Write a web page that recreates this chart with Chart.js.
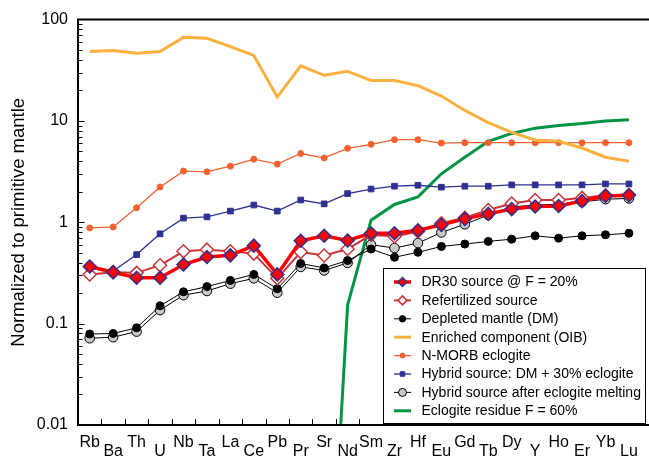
<!DOCTYPE html>
<html><head><meta charset="utf-8">
<script src="https://cdn.jsdelivr.net/npm/chart.js@4.4.0/dist/chart.umd.min.js"></script>
<style>html,body{margin:0;padding:0;overflow:hidden;background:#fff}</style>
</head><body>
<canvas id="c" width="651" height="460"></canvas>
<script>
const elements = ['Rb','Ba','Th','U','Nb','Ta','La','Ce','Pb','Pr','Sr','Nd','Sm','Zr','Hf','Eu','Gd','Tb','Dy','Y','Ho','Er','Yb','Lu'];
const dr30Source = [0.366,0.322,0.284,0.284,0.383,0.455,0.472,0.588,0.306,0.658,0.736,0.662,0.78,0.78,0.835,0.943,1.08,1.21,1.35,1.43,1.45,1.62,1.82,1.85];
const refertilized = [0.306,0.322,0.317,0.377,0.517,0.537,0.517,0.491,0.28,0.509,0.47,0.545,0.753,0.725,0.811,0.98,1.11,1.32,1.53,1.66,1.66,1.74,1.85,1.87];
const depletedMantle = [0.079,0.080,0.091,0.150,0.206,0.232,0.267,0.306,0.221,0.392,0.355,0.42,0.545,0.452,0.506,0.578,0.610,0.648,0.682,0.736,0.698,0.736,0.753,0.78];
const enrichedOIB = [48.4,49.5,46.6,48.4,66.8,65.3,54.2,44.3,17.2,35.0,28.2,30.9,25.0,25.0,22.3,17.6,12.7,9.65,7.7,6.48,6.29,5.41,4.39,4.01];
const nmorbEclogite = [0.88,0.90,1.39,2.23,3.20,3.15,3.58,4.20,3.75,4.77,4.32,5.37,5.88,6.53,6.53,6.05,6.1,6.1,6.1,6.1,6.1,6.1,6.1,6.1];
const hybridSource = [0.35,0.33,0.48,0.77,1.10,1.13,1.29,1.48,1.29,1.66,1.52,1.92,2.13,2.27,2.32,2.22,2.27,2.27,2.34,2.34,2.34,2.34,2.39,2.39];
const hybridAfterMelting = [0.0718,0.0735,0.0835,0.136,0.191,0.210,0.248,0.28,0.202,0.363,0.335,0.397,0.601,0.557,0.624,0.793,0.956,1.18,1.42,1.48,1.51,1.59,1.69,1.72];
const eclogiteResidue = [null,null,null,null,null,null,null,null,null,null,0.000014,0.153,1.05,1.50,1.78,3.01,4.39,6.29,7.53,8.49,9.02,9.43,10.0,10.3];
const yTickLabels = [0.01,0.1,1,10,100];

const FONT = "'Liberation Sans', Arial, sans-serif";

const datasets = [
  {label:'DR30 source @ F = 20%', data:dr30Source, borderColor:'#ff0000', borderWidth:3.5, pointStyle:'rectRot', pointRadius:6.5, pointBackgroundColor:'#ff0000', pointBorderColor:'#2e3192', pointBorderWidth:1.5, legR:4.5},
  {label:'Refertilized source', data:refertilized, borderColor:'#c9353b', borderWidth:2, pointStyle:'rectRot', pointRadius:6.5, pointBackgroundColor:'#ffffff', pointBorderColor:'#c9353b', pointBorderWidth:1.5, legR:4.5},
  {label:'Depleted mantle (DM)', data:depletedMantle, borderColor:'#000000', borderWidth:1, pointStyle:'circle', pointRadius:4, pointBackgroundColor:'#000000', pointBorderColor:'#000000', pointBorderWidth:1, legR:3.2},
  {label:'Enriched component (OIB)', data:enrichedOIB, borderColor:'#fbb040', borderWidth:3, pointRadius:0, legR:0},
  {label:'N-MORB eclogite', data:nmorbEclogite, borderColor:'#f26130', borderWidth:1.3, pointStyle:'circle', pointRadius:3, pointBackgroundColor:'#f26130', pointBorderColor:'#f26130', pointBorderWidth:1, legR:2.5},
  {label:'Hybrid source: DM + 30% eclogite', data:hybridSource, borderColor:'#2e3192', borderWidth:1.3, pointStyle:'rect', pointRadius:4, pointBackgroundColor:'#2e3192', pointBorderColor:'#2e3192', pointBorderWidth:1, legR:3.2},
  {label:'Hybrid source after eclogite melting', data:hybridAfterMelting, borderColor:'#000000', borderWidth:1, pointStyle:'circle', pointRadius:4.8, pointBackgroundColor:'#c8c8c8', pointBorderColor:'#000000', pointBorderWidth:1, legR:4},
  {label:'Eclogite residue F = 60%', data:eclogiteResidue, borderColor:'#009444', borderWidth:3, pointRadius:0, spanGaps:false, legR:0}
];
datasets.forEach(d=>{d.tension=0; d.fill=false;});

function drawMarker(ctx, style, x, y, r, fill, stroke, lw){
  ctx.beginPath();
  if(style==='circle'){ ctx.arc(x,y,r,0,Math.PI*2); }
  else if(style==='rectRot'){ ctx.moveTo(x,y-r); ctx.lineTo(x+r,y); ctx.lineTo(x,y+r); ctx.lineTo(x-r,y); ctx.closePath(); }
  else if(style==='rect'){ const s=r*Math.SQRT1_2; ctx.rect(x-s,y-s,2*s,2*s); }
  ctx.fillStyle=fill; ctx.fill();
  if(lw>0){ ctx.lineWidth=lw; ctx.strokeStyle=stroke; ctx.stroke(); }
}

const framePlugin = {
  id:'frame',
  afterDatasetsDraw(chart){
    const {ctx, chartArea:a, scales} = chart; const x=scales.x, y=scales.y;
    ctx.save();
    ctx.strokeStyle='#000'; ctx.lineWidth=1;
    for(let e=-2;e<=1;e++){ for(let m=1;m<=9;m++){
      const v=m*Math.pow(10,e); const py=Math.round(y.getPixelForValue(v))+0.5; const len=m===1?6.5:4.5;
      ctx.beginPath(); ctx.moveTo(a.left,py); ctx.lineTo(a.left+len,py); ctx.stroke(); } }
    const step = x.getPixelForValue(1)-x.getPixelForValue(0);
    for(let i=0;i<elements.length;i++){
      const px=Math.round(x.getPixelForValue(i)+step/2)+0.5;
      ctx.beginPath(); ctx.moveTo(px,a.bottom); ctx.lineTo(px,a.bottom-6); ctx.stroke();
    }
    ctx.lineWidth=2;
    ctx.beginPath(); ctx.moveTo(a.right+10,a.top); ctx.lineTo(a.left,a.top); ctx.lineTo(a.left,a.bottom); ctx.lineTo(a.right+10,a.bottom); ctx.stroke();
    ctx.restore();
  },
  afterDraw(chart){
    const ctx=chart.ctx;
    const bx=383.5, by=268.5, bw=262, bh=155;
    ctx.save();
    ctx.fillStyle='#fff'; ctx.fillRect(bx,by,bw,bh);
    ctx.strokeStyle='#000'; ctx.lineWidth=1; ctx.strokeRect(bx,by,bw,bh);
    ctx.font='14px '+FONT; ctx.textBaseline='middle'; ctx.textAlign='left'; ctx.fillStyle='#000';
    chart.data.datasets.forEach((d,i)=>{
      const cy=282+i*18.4;
      ctx.strokeStyle=d.borderColor; ctx.lineWidth=d.borderWidth;
      ctx.beginPath(); ctx.moveTo(394,cy); ctx.lineTo(411,cy); ctx.stroke();
      if(d.legR>0) drawMarker(ctx,d.pointStyle,402.5,cy,d.legR,d.pointBackgroundColor,d.pointBorderColor,d.pointBorderWidth);
      ctx.fillStyle='#000'; ctx.fillText(d.label,421.5,cy+0.5);
    });
    ctx.restore();
  }
};

new Chart(document.getElementById('c'), {
  type:'line',
  data:{labels:elements, datasets:datasets},
  options:{
    responsive:false, animation:false, devicePixelRatio:1,
    layout:{padding:{top:16,left:0,right:0,bottom:0}},
    plugins:{legend:{display:false}, tooltip:{enabled:false}},
    scales:{
      x:{type:'category', offset:true,
        grid:{display:false, drawTicks:false}, border:{display:false},
        ticks:{autoSkip:false, maxRotation:0, minRotation:0, padding:13, color:'#000',
          font:{family:FONT, size:16, lineHeight:0.58},
          callback:(v,i)=> i%2===0 ? [elements[i]] : ['', elements[i]]},
        afterFit:s=>{s.height=35;}},
      y:{type:'logarithmic', min:0.01, max:100,
        grid:{display:false, drawTicks:false}, border:{display:false},
        ticks:{autoSkip:false, padding:10, color:'#000', font:{family:FONT, size:16},
          callback:(v)=>{ const m=yTickLabels.find(t=>Math.abs(t-v)/t<1e-6); return m===undefined?null:String(m); }},
        title:{display:true, text:'Normalized to primitive mantle', color:'#000', font:{family:FONT, size:18.5}, padding:{top:8,bottom:0}},
        afterFit:s=>{s.width=78;}}
    }
  },
  plugins:[framePlugin]
});
</script>
</body></html>
